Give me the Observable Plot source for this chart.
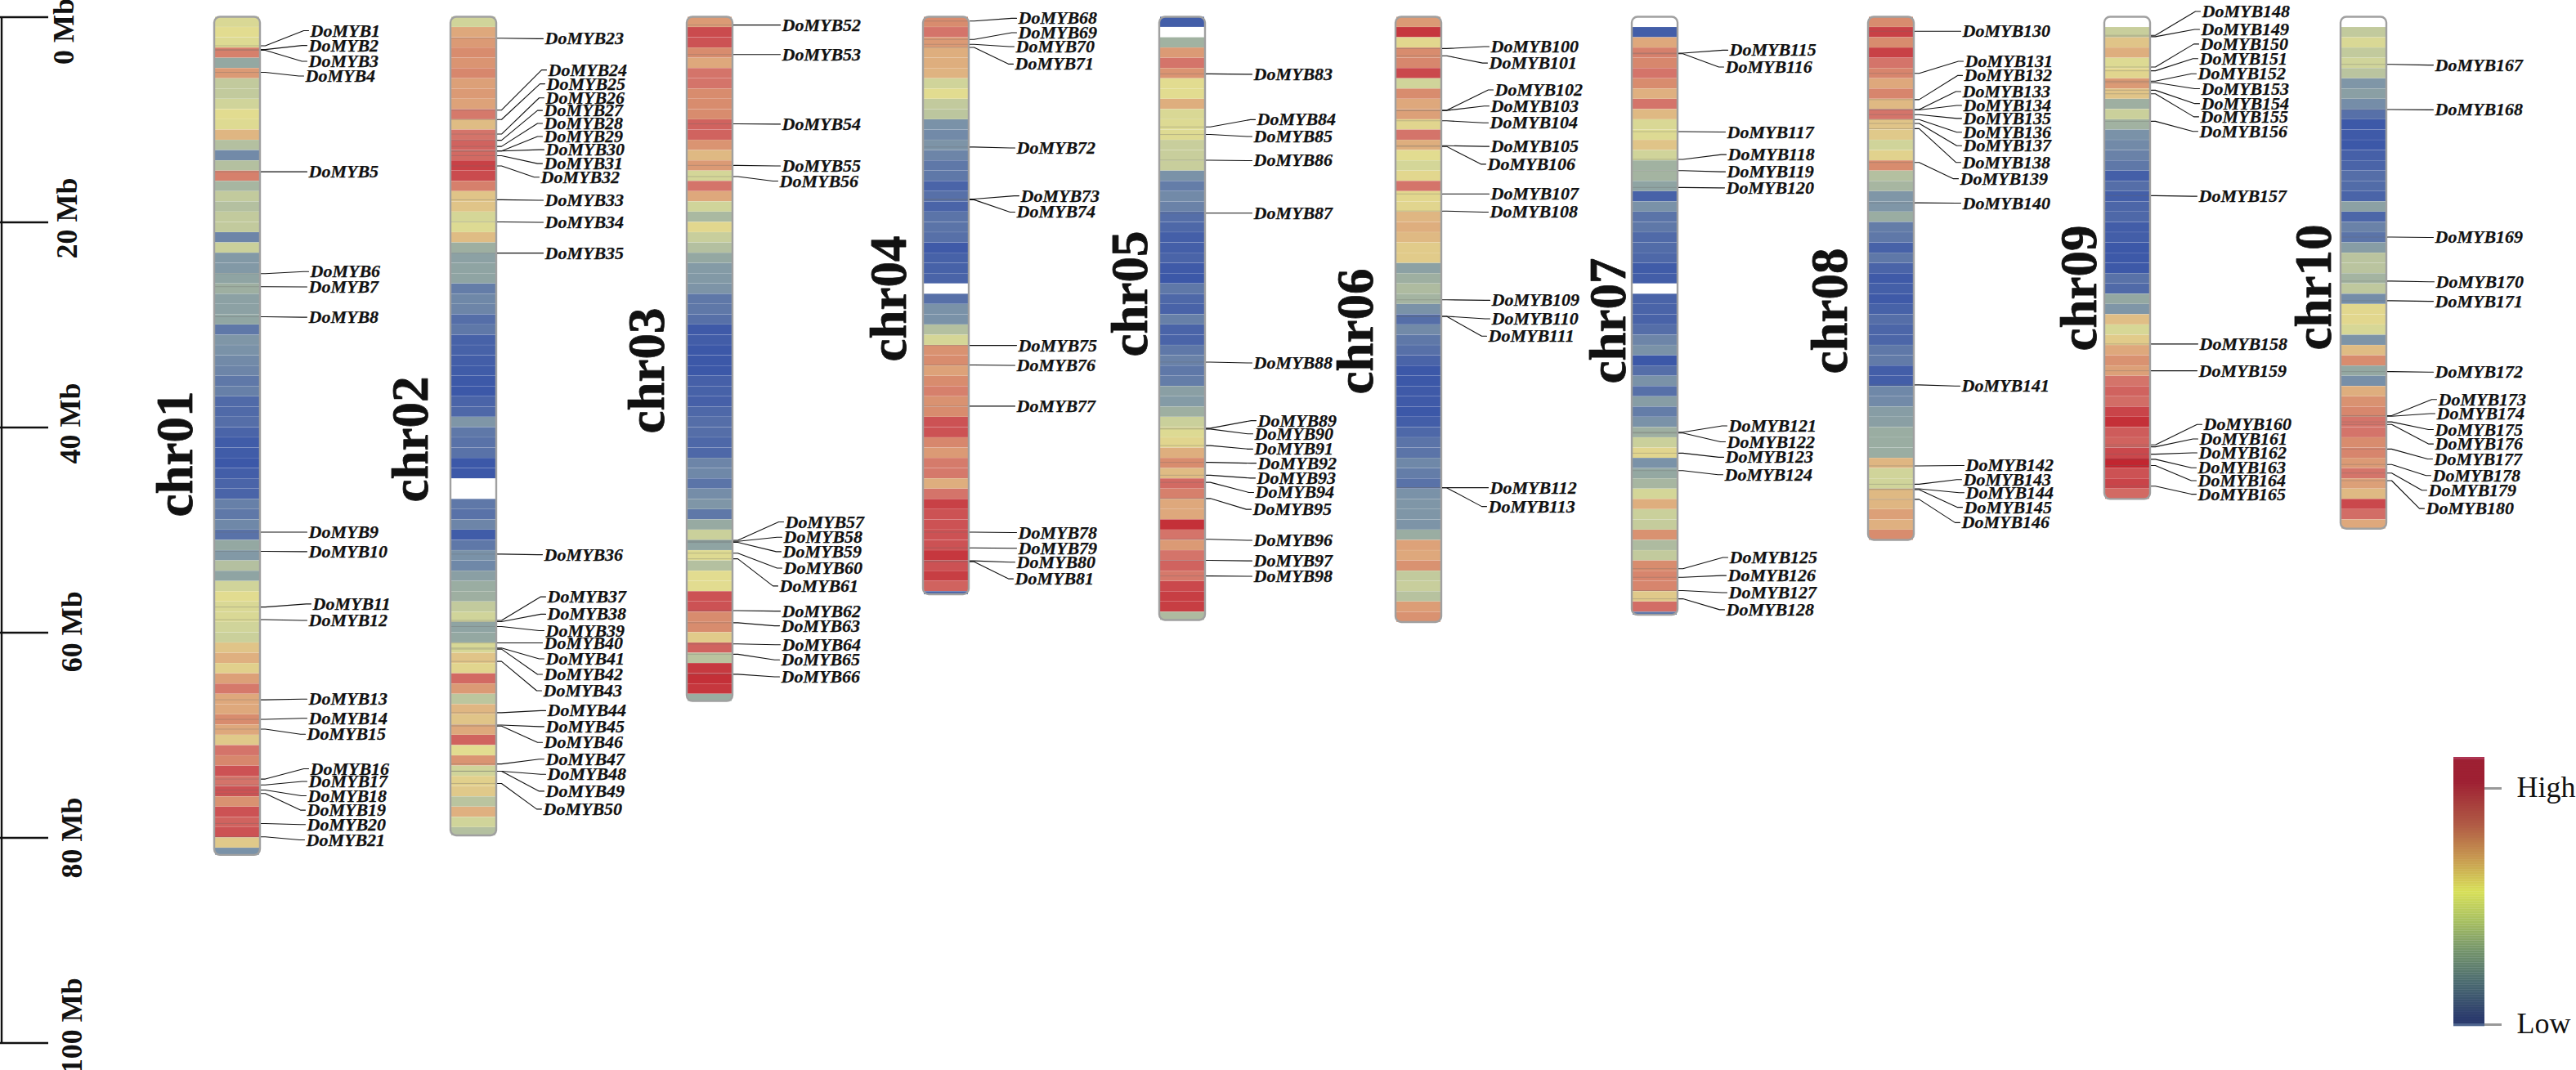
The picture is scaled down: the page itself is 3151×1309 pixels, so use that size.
<!DOCTYPE html>
<html><head><meta charset="utf-8">
<style>html,body{margin:0;padding:0;background:#fff;overflow:hidden}svg{display:block;max-width:none!important}</style>
<script src="https://cdn.jsdelivr.net/npm/d3@7"></script>
<script src="https://cdn.jsdelivr.net/npm/@observablehq/plot@0.6"></script>
</head><body><script>
// expression level per 1 Mb bin; null = no data
const chr01 = [6.5,7,6.7,10.5,4,9.5,5.5,5.5,6,7,6.8,8.5,5,2.7,5,10.5,4.6,5.5,5,5.5,5.5,2.5,5.8,3.3,3.3,3.8,4.3,3.7,3.7,3.9,2,3.2,3,2.7,2.5,2,2.3,1.3,1.3,1.5,1,.3,.3,0,.5,1,1,2.3,2,2.6,1.7,4,3.3,5,3.8,6,7,6.5,6.5,6,5.8,8,8.7,7.5,9.3,10.8,9,9,10,9,7.8,11,10.2,12,11,12,9.8,12,11.5,12,7.8,3];
const chr02 = [6,9,9.5,10,9.7,10.2,9.3,9.5,9.2,10.8,8.3,11,11.5,11.3,12.5,12.2,10.5,8,8,6.3,6.7,8.3,4.3,3.7,3.8,3.8,2.2,2.6,2.5,1.5,2,.8,.8,.5,.3,.1,0,1,1.2,3.2,2,1.7,1.7,0,0,null,null,2,1.7,2.5,.3,2,3,2.6,3.6,4.2,4.3,5.5,6,3.8,4,6.4,8,7.3,11.3,9.5,5.3,8.5,8,9,11.5,7,9.7,6,7.5,7.8,5.2,8.7,6,5];
const chr03 = [9.5,12.2,12,10,9,11,11,10,10,10,11.5,11.5,9.7,8.4,9.5,6.2,11,9,6,4.7,7.2,5.7,5,4,3.4,3.3,3.1,2,2,1.6,.2,.4,0,0,0,.7,.8,.7,1.2,1.5,1.5,1.2,1.2,2.5,2.6,1.8,2.8,3.2,2,4.1,5.8,3.8,6.8,5,7,7,12,12,10,10,7.7,11.5,5.2,12.7,13,12.8,4.2];
const chr04 = [10,11,9.5,8.8,8.8,8.6,6,7,5.5,5.3,3,2.7,3.1,2.5,2,2,1,1.6,1,1.8,1.8,1.6,.2,.8,.8,1,null,1.6,3,3,5,6.3,9.8,10,9.2,10,10.5,9.8,10,12,12,10.2,9.5,10.7,10.8,8.8,11,12.5,12,12,12,12,12.8,12,12.6,11.5,1];
const chr05 = [.5,null,4.4,9.5,11,9.7,7,7,8.8,6.5,6.7,6.8,5.7,5.7,5.7,3,2.2,2.7,2.4,1.5,1.2,.6,.6,1,.2,0,2,1.2,.9,2.3,1,1,2,2.4,2,2.2,3.6,3.4,4.3,5.8,6.7,7.3,8.8,10,8.3,11.3,10.5,9,9,13,11,9.5,11,11.5,10.8,12.3,12.6,12.6,4.8];
const chr06 = [9.5,12.8,7.2,10,10.2,12.3,6,10,9,9.3,7.3,11,8.8,7,6.2,7.2,11,7.2,7.3,8.5,8.8,8.4,7.7,7.7,3.7,4.3,4.8,4.5,3,1.5,2.7,2,1.6,1,0,0,.2,.2,0,.5,1.2,1.8,1.8,2.6,2.2,1.7,3,3.2,3.2,3.1,4.2,9.2,9,9.8,5.5,5.7,5.1,9.4,9.8];
const chr07 = [null,.5,9,10.5,10.2,11,10,8.7,11,8.4,6.5,6.7,8,6,4.4,4.5,3.8,.8,3,1.8,2,1.3,1.4,1.2,.3,.5,null,1,1,.9,1.5,2.5,3,0,1.5,3,1.6,3.5,2.2,3,4.3,5.8,7.3,3,4,4.6,6.2,8.8,5.8,5.6,9.8,4.8,5.5,10,10.3,10.3,7.8,11.2,2];
const chr08 = [10,12.5,10,12.5,11,10.3,9,10.3,8.4,11,8,7.8,6,7.4,10,5,4.6,3.2,3.2,4.2,2.2,2,.8,2,1,.2,.6,.2,.8,1.5,1.1,1.1,2,2.1,.5,.5,2.6,2.7,3.5,3.6,4.2,4.2,4.2,8.5,6,6,8.4,8.5,9.3,8.7,10];
const chr09 = [null,5.7,8,8.8,6.7,7.3,9.5,8,4.3,5.8,4.4,3,2.7,2.4,2,.6,1.5,.6,1.1,1.2,.4,.5,0,.1,.1,1.7,1.3,4,3.2,8.2,6.4,7.7,9,9.8,9.3,11,11.5,11.2,12.4,13,11.7,11.5,12.3,13.3,12,12.4,11.3];
const chr10 = [null,5.5,6.5,5.5,6,5.2,3.2,3.6,2.8,1.6,.1,.2,0,.7,1,1.5,1.4,1,3.7,1.1,2.4,1.8,3.5,5.2,5.2,4.5,5.4,2.8,7.2,7.2,6.4,3.1,8.3,10,4,2.9,8.8,9.8,10.2,11,11,10,10.3,9.5,11,9.3,8.4,12.3,11.2,9];
const chrLevels = [chr01,chr02,chr03,chr04,chr05,chr06,chr07,chr08,chr09,chr10];
const chrNames = ["chr01","chr02","chr03","chr04","chr05","chr06","chr07","chr08","chr09","chr10"];
const chrLengths = [81.7,79.8,66.7,56.3,58.8,59,58.3,51,47,49.9];
// gene numbers run on from the first one of each chromosome
const firstGene = [1,23,52,68,83,100,115,130,148,167];
// gene position on the chromosome, Mb
const genePos = [
 [2.79,3.16,3.23,5.38,15.07,25,26.27,29.2,50.2,52.07,57.5,58.73,66.54,68.45,69.4,74.27,74.84,75.34,75.68,78.6,79.9],
 [2.05,9.06,9.98,11.4,12,12.6,13.05,13.05,13.5,14.5,17.8,19.96,23,52.34,58.8,58.93,59.4,61,61.5,61.6,62.8,67.8,69,69.1,72.8,73.5,73.5,74.7],
 [.77,3.65,10.4,14.45,15.54,51,51.1,51.2,52.25,52.8,57.85,59.03,61.1,62.1,64.05],
 [.38,2.17,2.65,2.95,12.66,17.73,17.8,32,33.9,37.92,50.2,51.73,53,53.08],
 [5.53,10.7,11.44,13.94,19.1,33.62,40.07,40.15,41.76,43.4,44.65,45.35,46.92,50.9,52.95,54.47],
 [3.06,3.77,9.09,9.09,10.1,12.53,12.6,17.23,18.9,27.55,29.16,29.16,45.87,45.87],
 [3.5,3.57,11.16,13.86,14.96,16.6,40.46,40.54,42.5,44.2,53.76,54.6,55.9,56.7],
 [1.37,5.48,8.04,9,9.04,9.5,9.98,10.36,10.87,14.16,18.1,35.85,43.74,45.53,45.98,46.05,47],
 [1.77,1.9,4.86,5.23,6.24,6.37,7.12,7.47,10.15,17.4,31.86,34.47,41.69,41.88,42.6,43.1,43.7,45.72],
 [4.6,9,21.44,25.73,27.64,34.55,38.84,38.9,39.45,39.7,42.1,43.6,44.44,45.18]
];
// where the label sits along the same Mb axis
const labelPos = [
 [1.32,2.76,4.3,5.74,15.07,24.8,26.3,29.25,50.2,52.1,57.2,58.8,66.47,68.35,69.9,73.27,74.5,75.9,77.3,78.7,80.2],
 [2.1,5.15,6.5,7.87,9.09,10.36,11.63,12.92,14.27,15.6,17.85,20,23,52.4,56.5,58.2,59.8,61,62.55,64.06,65.66,67.6,69.15,70.7,72.33,73.8,75.45,77.2],
 [.77,3.65,10.43,14.5,15.98,49.2,50.7,52.1,53.7,55.45,57.9,59.33,61.17,62.65,64.3],
 [.11,1.51,2.87,4.57,12.75,17.42,19,32,33.94,37.92,50.24,51.77,53.13,54.75],
 [5.57,9.99,11.63,13.98,19.1,33.7,39.33,40.62,42.1,43.48,44.93,46.33,47.98,51,53,54.5],
 [2.87,4.47,7.09,8.66,10.3,12.6,14.33,17.23,19,27.6,29.4,31.1,45.87,47.7],
 [3.22,4.86,11.2,13.4,15.07,16.64,39.84,41.4,42.9,44.6,52.67,54.43,56.1,57.76],
 [1.37,4.3,5.69,7.25,8.6,9.87,11.22,12.53,14.16,15.75,18.13,35.96,43.7,45.08,46.36,47.78,49.27],
 [-.56,1.2,2.62,4.04,5.52,6.97,8.42,9.71,11.13,17.46,31.86,34.47,39.7,41.12,42.47,43.92,45.18,46.5],
 [4.67,9.03,21.47,25.8,27.7,34.6,37.27,38.64,40.2,41.6,43.07,44.68,46.12,47.9]
];
const labelNudge = [
 [1,-1,-1,-5,-1,1,-1,-1,-1,-1,4,-1,-1,-1,-3,1,-1,-2,-3,-3,-4],
 [-1,3,1,0,-2,-2,-2,0,-2,-6,-1,-1,-1,-2,2,2,0,-2,0,-2,-3,2,0,-2,0,2,0,-3],
 [0,0,0,0,-3,4,2,1,2,-3,0,-1,0,-1,-1],
 [0,0,-3,-4,-2,3,-2,0,-2,-2,0,0,-2,-4],
 [-1,3,-1,-1,-1,-1,4,0,0,4,3,1,-2,-1,-1,-1],
 [0,-2,5,0,-1,0,-4,0,-1,1,1,-3,-1,-3],
 [3,-2,0,1,0,-1,2,0,-2,-3,3,1,2,-1],
 [-1,2,1,-1,0,0,0,0,-1,-4,-1,-2,3,0,3,1,-2],
 [3,2,1,0,-2,2,2,1,0,-1,0,-1,5,0,-1,-2,-2,-2],
 [-1,-1,-1,0,-1,-1,3,1,-1,-1,-2,-4,-9,-12]
];
const axisTicks = [0,20,40,60,80,100];
const axisLabelPos = [1.4,19.6,39.6,59.9,80,98.3];
const axisLabelX = [78,82,86,88,88,88];
const levelDomain = [0,1,2,3,4,5,6,7,8,9,10,11,12,13];
const levelColors = ["#3c58a8","#4a64a8","#5f78a8","#7a92a8","#94a8a2","#b4c0a0","#d0d49a","#e2dc90","#e0c488","#dea87c","#d88c6e","#d4746a","#cc5254","#c43038"];
const rampStops = [[0,"#c0507a"],[.008,"#9e2033"],[.09,"#9e2033"],[.25,"#b05a45"],[.38,"#c89a50"],[.5,"#d8e058"],[.61,"#a8c060"],[.71,"#78986a"],[.84,"#4a6a70"],[.97,"#2a3a6c"],[.99,"#2a3a6c"],[1,"#6a86a8"]];
const rampLabels = ["High","Low"];

// layout
const pxPerMb = 12.55, topPx = 20.5;
const toMb = px => (px - topPx) / pxPerMb;
const stripLeft = i => 262 + 289 * i;
const stripRight = i => 318 + 289 * i;
const chrLabelX = [214,502,791,1087,1382,1658,1967,2238,2543,2830];
const chrLabelY = [555,537,453,365,359,405,392,380,352,351];

const bands = chrLevels.flatMap((a,c) => a.map((v,i) => ({c, v, y1:i, y2:Math.min(i+1,chrLengths[c])})).filter(d => d.v != null));
const chroms = chrNames.map((name,c) => ({name,c,len:chrLengths[c]}));
const genes = genePos.flatMap((a,c) => a.map((p,i) => ({
  name:"DoMYB"+(firstGene[c]+i), c, p, q:labelPos[c][i], lx:stripRight(c)+60+labelNudge[c][i]})));
const leaders = genes.flatMap(g => [
  {g:g.name,x:stripRight(g.c)+1,y:g.p},{g:g.name,x:stripRight(g.c)+6,y:g.p},
  {g:g.name,x:g.lx-8,y:g.q},{g:g.name,x:g.lx-2,y:g.q}]);
const rampN = 110, rampTop = toMb(926), rampBot = toMb(1255);
const rampColor = d3.scaleLinear().domain(rampStops.map(d=>d[0])).range(rampStops.map(d=>d[1]));
const ramp = d3.range(rampN).map(i => ({i, f:(i+.5)/rampN}));
const font = "Liberation Serif";

const chart = Plot.plot({
  width:3151, height:1309, margin:0,
  style:{background:"#fff", fontFamily:font},
  x:{domain:[0,3151], range:[0,3151], axis:null},
  y:{domain:[toMb(0),toMb(1309)], range:[0,1309], axis:null},
  color:{type:"linear", domain:levelDomain, range:levelColors, interpolate:"rgb"},
  marks:[
    Plot.rect(bands,{x1:d=>stripLeft(d.c)+1,x2:d=>stripRight(d.c)-1,y1:"y1",y2:"y2",fill:"v",insetBottom:.15}),
    Plot.ruleY(genes,{y:"p",x1:d=>stripLeft(d.c)+1,x2:d=>stripRight(d.c)-1,stroke:"#666",strokeOpacity:.35,strokeWidth:.9}),
    Plot.rect(chroms,{x1:d=>stripLeft(d.c),x2:d=>stripRight(d.c),y1:()=>0,y2:"len",fill:"none",stroke:"#a0a0a0",strokeWidth:2.4,rx:7}),
    Plot.line(leaders,{x:"x",y:"y",z:"g",stroke:"#111",strokeWidth:1.1,curve:"linear"}),
    Plot.text(genes,{x:"lx",y:"q",text:"name",textAnchor:"start",fontFamily:font,fontWeight:"bold",fontStyle:"italic",fontSize:22,fill:"#111",stroke:"#111",strokeWidth:.25}),
    Plot.text(chroms,{x:d=>chrLabelX[d.c],y:d=>toMb(chrLabelY[d.c]),text:"name",rotate:-90,fontFamily:font,fontWeight:"bold",fontSize:63,fill:"#111",stroke:"#111",strokeWidth:.8}),
    Plot.ruleX([0],{x:()=>1.5,y1:0,y2:100,stroke:"#111",strokeWidth:2.4}),
    Plot.ruleY(axisTicks,{x1:()=>0,x2:()=>59,stroke:"#111",strokeWidth:2.4}),
    Plot.text(axisTicks,{x:(d,i)=>axisLabelX[i],y:(d,i)=>axisLabelPos[i],text:d=>d+" Mb",rotate:-90,fontFamily:font,fontWeight:"bold",fontSize:36,fill:"#111"}),
    Plot.rect(ramp,{x1:()=>3001,x2:()=>3039,y1:d=>rampTop+(rampBot-rampTop)*d.i/rampN,y2:d=>rampTop+(rampBot-rampTop)*(d.i+1.1)/rampN,fill:{value:d=>rampColor(d.f),scale:null}}),
    Plot.ruleY([toMb(964),toMb(1253)],{x1:()=>3039,x2:()=>3060,stroke:"#999",strokeWidth:3}),
    Plot.text(rampLabels,{x:()=>3078,y:(d,i)=>[toMb(963),toMb(1252)][i],text:d=>d,textAnchor:"start",fontFamily:font,fontSize:36,fill:"#111"})
  ]
});
document.body.appendChild(chart);
</script></body></html>
